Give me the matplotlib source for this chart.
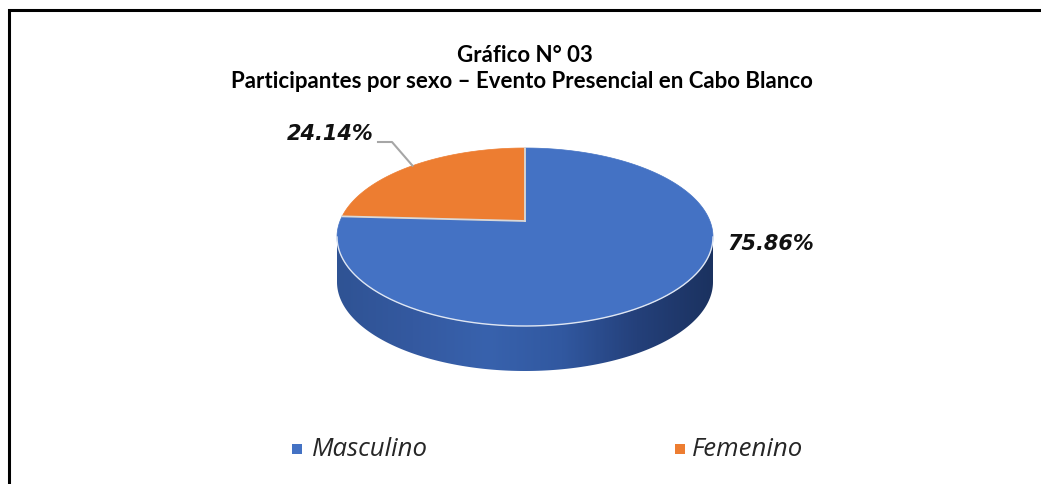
import numpy as np
import matplotlib.pyplot as plt
from matplotlib.patches import Polygon, Rectangle
from matplotlib.colors import LinearSegmentedColormap

# data
labels = ['Masculino', 'Femenino']
values = [75.86, 24.14]
colors = ['#4472C4', '#ED7D31']
title1 = 'Gráfico N° 03'
title2 = 'Participantes por sexo – Evento Presencial en Cabo Blanco'

W, H = 1041, 485
fig = plt.figure(figsize=(W / 100, H / 100), dpi=100)
ax = fig.add_axes([0, 0, 1, 1])
ax.set_xlim(0, W)
ax.set_ylim(H, 0)
ax.axis('off')

# pie geometry (pixels)
cx, cy, rx, ry, depth = 525, 238, 188, 89, 45
tilt = 0.18  # perspective shift of the pie centre


def proj(X, Y):
    # projective map of unit disk onto the top ellipse (keeps the rim on the ellipse)
    d = 1 + tilt * Y
    return cx + rx * X * np.sqrt(1 - tilt ** 2) / d, cy - ry * (Y + tilt) / d


# side wall (front half)
th = np.linspace(np.pi, 2 * np.pi, 200)
top_x = cx + rx * np.cos(th)
top_y = cy - ry * np.sin(th)
side = np.vstack([np.column_stack([top_x, top_y]),
                  np.column_stack([top_x[::-1], top_y[::-1] + depth])])
side_patch = Polygon(side, closed=True, facecolor='none', edgecolor='none')
ax.add_patch(side_patch)
grad = LinearSegmentedColormap.from_list(
    'side', ['#2f5394', '#3459a0', '#3862ad', '#3158a0', '#24407a', '#1b3260'])
img = ax.imshow(np.linspace(0, 1, 300)[None, :], cmap=grad, aspect='auto',
                extent=[cx - rx, cx + rx, cy + ry + depth, cy - 5], zorder=1)
img.set_clip_path(side_patch)

# top face wedges
fracs = np.array(values) / sum(values)
start = 90 + 360 * fracs[1]  # masculino starts after femenino
angles = [(start, start + 360 * fracs[0]), (90, 90 + 360 * fracs[1])]
c0 = proj(0, 0)
for (a0, a1), col in zip(angles, colors):
    phi = np.radians(np.linspace(a0, a1, 300))
    px, py = proj(np.cos(phi), np.sin(phi))
    pts = np.vstack([[c0], np.column_stack([px, py])])
    ax.add_patch(Polygon(pts, closed=True, facecolor=col, edgecolor=col,
                         linewidth=0.5, zorder=2))

# slice separators
for a in [90, start]:
    ex, ey = proj(np.cos(np.radians(a)), np.sin(np.radians(a)))
    ax.plot([c0[0], ex], [c0[1], ey], color='#d9d9d9', lw=1.3, zorder=3)

# light rim along the front edge
ax.plot(top_x, top_y, color='#dfe6f2', lw=1.0, zorder=3)

# data labels
ax.text(771, 244, f'{values[0]:.2f}%', fontsize=15, fontweight='bold',
        fontstyle='italic', ha='center', va='center', color='#111111', zorder=5)
mid = np.radians(90 + 180 * fracs[1])
lx, ly = proj(np.cos(mid), np.sin(mid))
ax.plot([lx, 392, 378], [ly, 143, 143], color='#a6a6a6', lw=1.5, zorder=4)
ax.text(330, 134, f'{values[1]:.2f}%', fontsize=15, fontweight='bold',
        fontstyle='italic', ha='center', va='center', color='#111111', zorder=5)

# titles
ax.text(525, 56, title1, fontsize=16, fontweight='bold', family='Lato',
        ha='center', va='center', color='black')
ax.text(522, 82, title2, fontsize=16, fontweight='bold', family='Lato',
        ha='center', va='center', color='black')

# legend
for (sx, tx), lab, col in zip([(297, 312), (680, 692)], labels, colors):
    ax.add_patch(Rectangle((sx - 5, 445), 10, 10, facecolor=col, edgecolor='none'))
    ax.text(tx, 450, lab, fontsize=18.5, fontstyle='italic', family='Open Sans',
            ha='left', va='center', color='#262626')

# frame
ax.plot([9, 9, W], [H, 11, 11], color='black', lw=2.2, solid_joinstyle='miter')

fig.savefig('out.png', dpi=100)
